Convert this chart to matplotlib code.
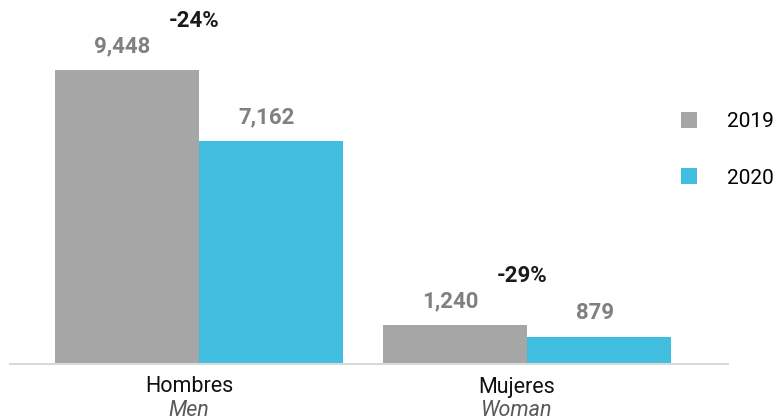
import matplotlib.pyplot as plt
import numpy as np

plt.rcParams['font.family'] = ['Roboto', 'DejaVu Sans']

categories = ['Hombres', 'Mujeres']
subtitles = ['Men', 'Woman']
years = ['2019', '2020']
values_2019 = [9448, 1240]
values_2020 = [7162, 879]
changes = ['-24%', '-29%']

gray = '#a6a6a6'
blue = '#41bde0'

fig = plt.figure(figsize=(7.75, 4.2), dpi=100)
ax = fig.add_axes([10 / 775, 56 / 420, 718 / 775, 364 / 420])

x = np.arange(len(categories))
w = 0.439
b1 = ax.bar(x - w / 2, values_2019, w, color=gray, label=years[0])
b2 = ax.bar(x + w / 2, values_2020, w, color=blue, label=years[1])

ax.set_xlim(-0.576, 1.613)
ax.set_ylim(0, 11697)

# labels sit a few pixels left of centre, as in the original
for i in range(len(categories)):
    ax.annotate(f'{values_2019[i]:,}', (x[i] - w / 2, values_2019[i]),
                xytext=(-5, 24), textcoords='offset pixels', ha='center', va='center',
                fontsize=16, fontweight='bold', color='#808080')
    ax.annotate(f'{values_2020[i]:,}', (x[i] + w / 2, values_2020[i]),
                xytext=(-4, 24), textcoords='offset pixels', ha='center', va='center',
                fontsize=16, fontweight='bold', color='#808080')
    ax.annotate(changes[i], (x[i], values_2019[i]),
                xytext=(-5, 49), textcoords='offset pixels', ha='center', va='center',
                fontsize=16, fontweight='bold', color='#1a1a1a')

ax.set_xticks(x)
ax.set_xticklabels([])
ax.tick_params(axis='x', length=0)
for i in range(len(categories)):
    ax.annotate(categories[i], (x[i], 0), xytext=(-10, -23), textcoords='offset pixels',
                ha='center', va='center', fontsize=15.5, color='#111111')
    ax.annotate(subtitles[i], (x[i], 0), xytext=(-10, -47), textcoords='offset pixels',
                ha='center', va='center', fontsize=15.5, style='italic', color='#595959')

ax.set_yticks([])
for s in ['top', 'left', 'right']:
    ax.spines[s].set_visible(False)
ax.spines['bottom'].set_color('#d9d9d9')
ax.spines['bottom'].set_linewidth(1.5)

fig.legend(handles=[b1, b2], labels=years, loc='upper left',
           bbox_to_anchor=(662 / 775, 1 - 93 / 420), frameon=False,
           handlelength=0.8, handleheight=0.8, handletextpad=1.4,
           labelspacing=1.8, fontsize=15)

fig.savefig('out.png', dpi=100)
